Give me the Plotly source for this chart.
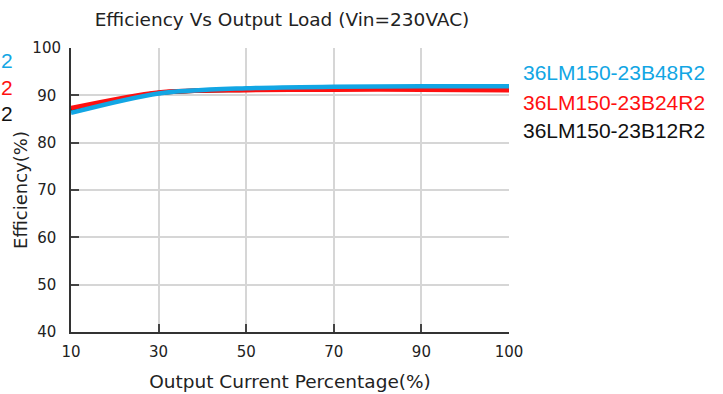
import plotly.graph_objects as go

load_pct = ["10", "30", "50", "70", "90", "100"]
eff_12 = [86.9, 90.5, 91.2, 91.4, 91.4, 91.3]
eff_24 = [87.3, 90.6, 91.1, 91.2, 91.2, 91.1]
eff_48 = [86.3, 90.4, 91.5, 91.8, 91.9, 91.9]
y_ticks = [40, 50, 60, 70, 80, 90, 100]
series_names = ["36LM150-23B48R2", "36LM150-23B24R2", "36LM150-23B12R2"]
cut_labels = ["2", "2", "2"]

BLUE = "#12A6E4"
RED = "#FF1010"
BLACK = "#111111"

# centre-aligned look for y tick labels (pad shorter labels by half a digit)
y_ticktext = [str(v) if v >= 100 else str(v) + "\u2008" for v in y_ticks]

fig = go.Figure()
for y, c in [(eff_12, BLACK), (eff_24, RED), (eff_48, BLUE)]:
    fig.add_trace(go.Scatter(x=load_pct, y=y, mode="lines",
                             line=dict(color=c, width=4.5, shape="spline", smoothing=0.8),
                             showlegend=False, hoverinfo="skip"))

font_geo = "'DejaVu Sans', sans-serif"
fig.update_layout(
    width=723, height=394,
    margin=dict(l=71, r=214, t=48, b=62),
    paper_bgcolor="white", plot_bgcolor="white",
    title=dict(text="Efficiency Vs Output Load (Vin=230VAC)", x=282/723, xanchor="center",
               y=1 - 20/394, yanchor="middle",
               font=dict(family=font_geo, size=18.5, color="#222")),
    xaxis=dict(type="category", range=[0, 5], showgrid=True, gridcolor="#d6d6d6", gridwidth=1.5,
               showline=True, linecolor="#333", linewidth=2, automargin=False,
               ticks="inside", ticklen=8, tickcolor="#444", tickwidth=1.5,
               ticklabelstandoff=5,
               tickfont=dict(family=font_geo, size=15, color="#222"),
               title=dict(text="Output Current Percentage(%)", standoff=15,
                          font=dict(family=font_geo, size=18.5, color="#222")),
               zeroline=False),
    yaxis=dict(range=[40, 100], tickvals=y_ticks, ticktext=y_ticktext, automargin=False,
               showgrid=True, gridcolor="#d6d6d6", gridwidth=1.5,
               showline=True, linecolor="#333", linewidth=2,
               ticks="inside", ticklen=8, tickcolor="#444", tickwidth=1.5,
               ticklabelstandoff=5,
               tickfont=dict(family=font_geo, size=15, color="#222"),
               title=dict(text="Efficiency(%)", standoff=0,
                          font=dict(family=font_geo, size=18, color="#222")),
               zeroline=False),
)

leg_font = "'Liberation Sans', Arial, sans-serif"
right_y = [72, 102, 130]
left_y = [60, 87, 113]
colors = [BLUE, RED, BLACK]
for name, cut, c, yr, yl in zip(series_names, cut_labels, colors, right_y, left_y):
    fig.add_annotation(text=name, xref="paper", yref="paper",
                       x=(521 - 71) / 438, y=(332 - yr) / 284, xanchor="left", yanchor="middle",
                       showarrow=False, font=dict(family=leg_font, size=21, color=c))
    fig.add_annotation(text=cut, xref="paper", yref="paper",
                       x=(15 - 71) / 438, y=(332 - yl) / 284, xanchor="right", yanchor="middle",
                       showarrow=False, font=dict(family=leg_font, size=21, color=c))

fig.write_html("out.html")
